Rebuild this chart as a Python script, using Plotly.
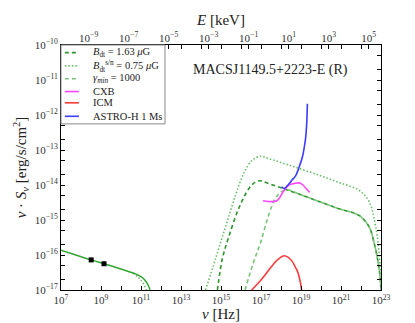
import plotly.graph_objects as go
import numpy as np

# log10(nu / Hz) and log10(nu S_nu / erg/s/cm^2)
radio_lognu = [7.0, 8.51, 9.15, 10.0, 10.73, 11.0, 11.2, 11.35, 11.45]
radio_logs = [-15.86, -16.14, -16.25, -16.4, -16.54, -16.62, -16.72, -16.85, -17.0]

radio_sn_lognu = [10.6, 10.9, 11.1, 11.27]
radio_sn_logs = [-16.52, -16.66, -16.8, -17.0]

obs_lognu = [8.51, 9.15]
obs_logs = [-16.14, -16.25]

bdt_lognu = [14.82, 15.07, 15.4, 15.9, 16.4, 16.73, 17.0, 17.15, 18.0, 18.3, 19.0, 19.9,
             20.9, 21.9, 22.4, 22.65, 22.9, 23.0]
bdt_logs = [-17.0, -16.1, -15.46, -14.65, -14.1, -13.91, -13.88, -13.91, -14.08, -14.14, -14.28,
            -14.47, -14.68, -14.87, -15.19, -15.64, -16.37, -17.0]

bsn_lognu = [14.23, 14.73, 15.23, 15.73, 16.15, 16.57, 16.98, 17.4, 18.5, 19.9, 20.9, 21.9,
             22.4, 22.73, 22.93, 23.0]
bsn_logs = [-17.0, -16.1, -15.19, -14.29, -13.65, -13.29, -13.18, -13.25, -13.45, -13.72,
            -13.93, -14.15, -14.47, -15.18, -16.1, -17.0]

gmin_lognu = [16.2, 16.6, 16.98, 17.4, 17.7, 18.0] + bdt_lognu[9:]
gmin_logs = [-17.0, -16.25, -15.64, -14.83, -14.4, -14.2] + bdt_logs[9:]

cxb_lognu = [17.1, 17.8, 18.1, 18.4, 18.65, 18.9, 19.1, 19.25, 19.43]
cxb_logs = [-14.45, -14.45, -14.2, -14.0, -13.96, -13.94, -14.0, -14.1, -14.21]

icm_lognu = [16.53, 16.9, 17.23, 17.5, 17.73, 17.95, 18.15, 18.35, 18.57, 18.72, 18.82,
             18.92, 18.98, 19.03]
icm_logs = [-17.0, -16.78, -16.55, -16.35, -16.19, -16.08, -16.02, -16.06, -16.19, -16.35,
            -16.46, -16.65, -16.82, -17.0]

astro_lognu = [18.03, 18.15, 18.35, 18.55, 18.73, 18.9, 19.07, 19.16, 19.23, 19.28, 19.32]
astro_logs = [-14.05, -14.1, -14.0, -13.86, -13.74, -13.5, -13.2, -12.93, -12.66, -12.3, -11.68]

H_KEV = 4.135667e-18  # keV s

FONT = "Liberation Serif"
GREEN = "rgb(45,150,45)"
GREEN_DOT = "rgb(105,190,105)"
GREEN_LIGHT = "rgb(120,195,120)"
DASH = "4px,3px"
DOT = "1.5px,2px"

# name, x, y, color, dash
series = [
    ("<i>B</i><sub>dt</sub> = 1.63 <i>\u03bc</i>G", bdt_lognu, bdt_logs, GREEN, DASH),
    ("<i>B</i><sub>dt</sub><sup>s/n</sup> = 0.75 <i>\u03bc</i>G", bsn_lognu, bsn_logs, GREEN_DOT, DOT),
    ("<i>\u03b3</i><sub><i>min</i></sub> = 1000", gmin_lognu, gmin_logs, GREEN_LIGHT, DASH),
    ("CXB", cxb_lognu, cxb_logs, "rgb(255,70,255)", "solid"),
    ("ICM", icm_lognu, icm_logs, "rgb(255,60,60)", "solid"),
    ("ASTRO-H 1 Ms", astro_lognu, astro_logs, "rgb(60,60,255)", "solid"),
]


def p(v):
    return 10 ** np.array(v)


def sup(e):
    return "10<sup>" + str(e).replace("-", "\u2212") + "</sup>"


fig = go.Figure()

for name, lx, ly, color, dash in series:
    fig.add_trace(go.Scatter(x=p(lx), y=p(ly), mode="lines", line_shape="spline", name=name,
                             line=dict(color=color, width=1.6, dash=dash)))

# radio part
fig.add_trace(go.Scatter(x=p(radio_sn_lognu), y=p(radio_sn_logs), mode="lines", line_shape="spline",
                         line=dict(color=GREEN_DOT, width=1.5, dash=DOT)))
fig.add_trace(go.Scatter(x=p(radio_lognu), y=p(radio_logs), mode="lines", line_shape="spline",
                         line=dict(color="rgb(50,165,50)", width=1.5)))
fig.add_trace(go.Scatter(x=p(obs_lognu), y=p(obs_logs), mode="markers",
                         marker=dict(color="black", size=5, symbol="square")))
# empty trace so the top energy axis gets drawn
fig.add_trace(go.Scatter(x=[], y=[], xaxis="x2", yaxis="y", hoverinfo="skip"))

# hand-made legend (matplotlib-style compact box)
leg_x0, leg_x1, leg_y0 = 0.0, 0.325, 0.678
row_y = [0.969, 0.915, 0.862, 0.810, 0.764, 0.709]
shapes = [dict(type="rect", xref="paper", yref="paper", x0=leg_x0, x1=leg_x1, y0=leg_y0, y1=1,
               line=dict(color="#888", width=1), fillcolor="white", layer="above")]
annotations = []
for (name, lx, ly, color, dash), yy in zip(series, row_y):
    shapes.append(dict(type="line", xref="paper", yref="paper", x0=0.012, x1=0.056, y0=yy, y1=yy,
                       line=dict(color=color, width=1.6, dash=dash), layer="above"))
    annotations.append(dict(text=name, xref="paper", yref="paper", x=0.094, y=yy, xanchor="left",
                            yanchor="middle", showarrow=False,
                            font=dict(family=FONT, size=10.5, color="#222")))

annotations.append(dict(text="MACSJ1149.5+2223-E (R)", xref="paper", yref="paper",
                        x=0.655, y=0.94, showarrow=False,
                        font=dict(family=FONT, size=14, color="#222")))

axis_common = dict(showline=True, linecolor="black", linewidth=1, mirror="allticks",
                   ticks="inside", ticklen=4, tickcolor="black", showgrid=False, zeroline=False,
                   tickfont=dict(family=FONT, size=11, color="#333"))

x_vals = list(range(7, 24))
fig.update_layout(
    width=415, height=323,
    margin=dict(l=53, r=42, t=32, b=33),
    plot_bgcolor="white", paper_bgcolor="white",
    showlegend=False,
    font=dict(family=FONT, color="#222"),
    xaxis=dict(type="log", range=[7, 23], **axis_common,
               tickvals=[10.0 ** v for v in x_vals],
               ticktext=[sup(v) if v % 2 == 1 else "" for v in x_vals],
               title=dict(text="<i>\u03bd</i> [Hz]", font=dict(family=FONT, size=15), standoff=2)),
    xaxis2=dict(type="log", overlaying="x", side="top", anchor="y",
                range=[7 + np.log10(H_KEV), 23 + np.log10(H_KEV)],
                showline=False, ticks="inside", ticklen=4, tickcolor="black",
                showgrid=False, zeroline=False,
                tickfont=dict(family=FONT, size=11, color="#333"),
                tickvals=[10.0 ** v for v in range(-9, 6, 2)],
                ticktext=[sup(v) for v in range(-9, 6, 2)],
                title=dict(text="<i>E</i> [keV]", font=dict(family=FONT, size=15), standoff=0)),
    yaxis=dict(type="log", range=[-17, -10], **axis_common,
               tickvals=[10.0 ** v for v in range(-17, -9)],
               ticktext=[sup(v) for v in range(-17, -9)],
               minor=dict(ticks="inside", ticklen=2, tickcolor="black"),
               title=dict(text="<i>\u03bd</i> \u00b7 <i>S</i><sub><i>\u03bd</i></sub> [erg/s/cm<sup>2</sup>]",
                          font=dict(family=FONT, size=15), standoff=4)),
    shapes=shapes,
    annotations=annotations,
)

fig.write_html("out.html")
